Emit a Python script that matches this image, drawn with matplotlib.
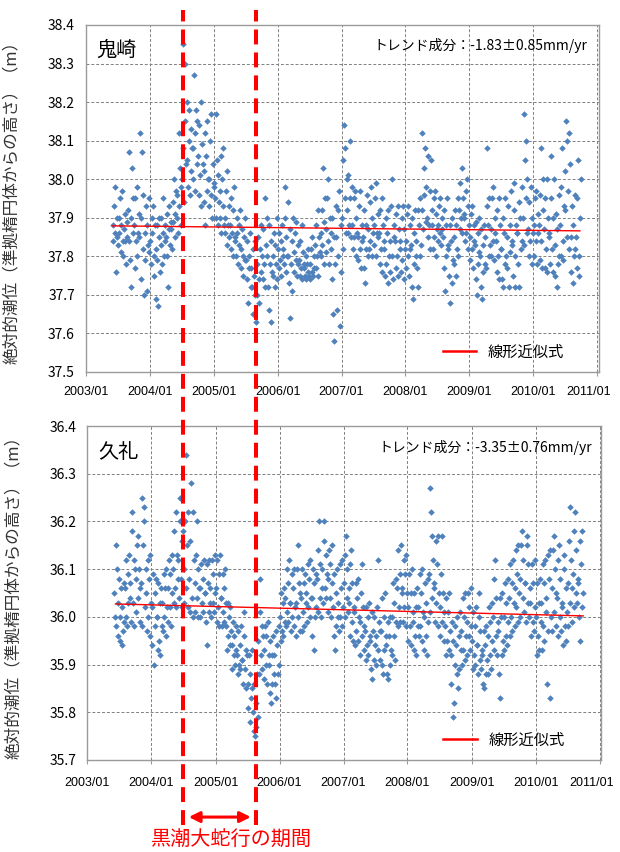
import numpy as np
import pandas as pd
import matplotlib
matplotlib.use("Agg")
import matplotlib.pyplot as plt
import matplotlib.dates as mdates
from matplotlib.lines import Line2D
from matplotlib.transforms import blended_transform_factory, ScaledTranslation

plt.rcParams['font.family'] = ['Noto Sans CJK JP', 'DejaVu Sans']

# ---- data: 8 samples per month, in cm above a base height ----
first_month = "2003-06"
per_month = 8

oni_base = 37.0
oni_cm = [
    # 2003 Jun-Dec
    [88, 84, 93, 86, 98, 76, 90, 85], [83, 90, 86, 95, 81, 88, 97, 84],
    [80, 87, 91, 84, 78, 89, 85, 92], [84, 107, 79, 90, 72, 103, 86, 95],
    [88, 77, 95, 84, 98, 80, 86, 91], [85, 112, 74, 90, 107, 82, 96, 70],
    [86, 79, 93, 71, 88, 83, 95, 81],
    # 2004
    [84, 78, 90, 86, 93, 80, 75, 88], [82, 69, 88, 79, 67, 85, 90, 76],
    [83, 90, 78, 86, 95, 80, 84, 88], [85, 80, 91, 72, 87, 93, 83, 89],
    [87, 82, 94, 89, 100, 85, 91, 97], [90, 96, 86, 112, 93, 103, 88, 98],
    [100, 108, 135, 94, 115, 130, 104, 120], [105, 98, 118, 110, 96, 113, 102, 108],
    [108, 100, 127, 112, 97, 118, 104, 115], [106, 96, 114, 101, 120, 93, 109, 104],
    [102, 94, 112, 88, 106, 97, 115, 100], [100, 93, 110, 96, 117, 90, 104, 98],
    # 2005
    [99, 95, 117, 90, 105, 88, 101, 94], [97, 90, 106, 86, 100, 93, 108, 88],
    [90, 86, 97, 83, 102, 88, 93, 85], [88, 82, 95, 86, 80, 92, 98, 84],
    [85, 80, 90, 86, 78, 88, 83, 92], [82, 77, 87, 80, 75, 85, 90, 79],
    [79, 74, 84, 68, 80, 77, 86, 72], [77, 72, 82, 65, 75, 70, 84, 63],
    [78, 70, 85, 74, 68, 82, 76, 88], [80, 74, 87, 78, 95, 72, 83, 90],
    [80, 72, 88, 66, 78, 63, 84, 76], [80, 75, 86, 72, 83, 78, 90, 74],
    # 2006
    [82, 77, 86, 79, 75, 84, 88, 80], [82, 78, 90, 98, 76, 85, 80, 94],
    [80, 73, 87, 64, 78, 84, 71, 90], [81, 76, 86, 79, 89, 75, 83, 78],
    [79, 75, 84, 77, 88, 74, 81, 78], [77, 75, 80, 74, 78, 76, 82, 75],
    [78, 74, 82, 76, 85, 75, 80, 77], [83, 77, 88, 80, 92, 75, 85, 81],
    [86, 80, 92, 83, 103, 78, 89, 95], [87, 81, 95, 84, 100, 78, 90, 86],
    [82, 74, 90, 65, 85, 58, 78, 93], [85, 66, 92, 80, 97, 62, 88, 76],
    # 2007
    [90, 105, 82, 114, 95, 108, 86, 100], [92, 86, 101, 88, 110, 95, 85, 98],
    [88, 82, 95, 85, 97, 80, 90, 86], [85, 79, 93, 82, 97, 77, 88, 84],
    [85, 77, 92, 73, 88, 82, 96, 80], [87, 82, 94, 84, 98, 80, 90, 86],
    [88, 83, 95, 80, 99, 86, 91, 85], [86, 78, 92, 82, 95, 76, 88, 84],
    [82, 75, 90, 78, 86, 73, 92, 80], [84, 76, 93, 80, 100, 74, 88, 85],
    [84, 77, 91, 80, 93, 75, 87, 82], [84, 76, 90, 79, 93, 74, 87, 82],
    # 2008
    [84, 77, 91, 80, 93, 75, 88, 82], [83, 72, 90, 69, 86, 78, 92, 80],
    [84, 77, 92, 72, 88, 80, 95, 83], [92, 112, 87, 103, 96, 108, 89, 98],
    [90, 85, 106, 88, 97, 82, 105, 92], [88, 82, 95, 85, 97, 80, 91, 87],
    [88, 84, 93, 86, 95, 83, 90, 87], [85, 77, 92, 71, 88, 80, 95, 83],
    [82, 75, 88, 68, 84, 73, 90, 79], [85, 78, 92, 75, 88, 82, 95, 80],
    [92, 87, 99, 90, 103, 86, 95, 91], [90, 84, 97, 86, 100, 82, 93, 88],
    # 2009
    [85, 79, 91, 82, 93, 77, 88, 84], [83, 74, 89, 70, 86, 78, 90, 81],
    [80, 72, 87, 69, 83, 76, 88, 78], [85, 77, 93, 108, 88, 80, 95, 83],
    [87, 80, 95, 84, 98, 79, 90, 86], [84, 76, 92, 80, 95, 74, 88, 82],
    [82, 74, 90, 72, 86, 78, 95, 80], [85, 77, 93, 72, 88, 81, 97, 83],
    [84, 75, 92, 99, 80, 72, 88, 86], [86, 78, 94, 72, 90, 82, 98, 84],
    [90, 117, 83, 105, 95, 110, 86, 100], [87, 80, 94, 84, 98, 78, 90, 86],
    # 2010 Jan-Sep
    [88, 80, 95, 84, 97, 78, 91, 86], [88, 79, 96, 108, 84, 77, 92, 100],
    [87, 77, 95, 82, 100, 76, 90, 85], [86, 78, 95, 106, 82, 76, 90, 100],
    [83, 75, 91, 72, 87, 78, 96, 80], [88, 80, 98, 108, 84, 79, 93, 102],
    [92, 115, 85, 110, 97, 112, 82, 104], [85, 76, 93, 73, 88, 80, 96, 82],
    [85, 77, 95, 105, 80, 75, 90, 100],
]

kure_base = 35.0
kure_cm = [
    # 2003 Jun-Dec
    [105, 100, 115, 98, 110, 96, 103, 108], [100, 95, 106, 94, 102, 97, 107, 99],
    [106, 100, 112, 98, 109, 103, 113, 104], [107, 99, 118, 122, 103, 112, 98, 110],
    [108, 101, 115, 117, 104, 110, 99, 106], [107, 125, 98, 115, 123, 120, 102, 110],
    [105, 97, 112, 100, 108, 96, 113, 103],
    # 2004
    [102, 94, 109, 90, 105, 98, 108, 100], [100, 93, 107, 95, 103, 92, 106, 98],
    [103, 97, 109, 100, 106, 96, 110, 102], [106, 99, 112, 102, 109, 98, 113, 105],
    [110, 103, 118, 106, 122, 102, 113, 108], [112, 104, 120, 125, 108, 116, 102, 118],
    [110, 103, 120, 134, 106, 115, 102, 122], [108, 101, 116, 128, 104, 122, 100, 112],
    [107, 101, 113, 120, 104, 110, 100, 106], [106, 100, 111, 103, 108, 101, 112, 105],
    [105, 99, 111, 94, 107, 101, 112, 103], [106, 100, 112, 103, 109, 101, 113, 105],
    # 2005
    [106, 99, 112, 102, 109, 98, 113, 104], [104, 98, 109, 101, 106, 99, 110, 103],
    [98, 93, 103, 96, 100, 94, 102, 97], [94, 89, 99, 92, 96, 90, 98, 93],
    [92, 88, 97, 90, 94, 89, 98, 91], [91, 86, 96, 101, 89, 93, 85, 92],
    [86, 81, 92, 78, 88, 83, 93, 85], [80, 76, 86, 75, 82, 77, 88, 79],
    [95, 88, 101, 108, 92, 98, 89, 96], [93, 87, 98, 90, 96, 86, 99, 92],
    [90, 84, 95, 82, 92, 86, 96, 88], [92, 86, 97, 83, 94, 88, 98, 90],
    # 2006
    [100, 95, 105, 97, 103, 96, 106, 99], [104, 98, 110, 101, 107, 99, 112, 103],
    [103, 97, 109, 100, 106, 98, 110, 102], [103, 96, 110, 115, 100, 107, 97, 105],
    [104, 97, 110, 101, 107, 98, 109, 103], [105, 99, 111, 102, 108, 100, 112, 104],
    [104, 96, 110, 93, 107, 100, 109, 102], [108, 101, 114, 120, 104, 111, 100, 106],
    [110, 103, 116, 120, 106, 113, 104, 109], [108, 101, 114, 104, 111, 100, 115, 107],
    [102, 96, 109, 93, 105, 98, 110, 100], [103, 97, 111, 100, 106, 98, 112, 102],
    # 2007
    [107, 100, 113, 117, 104, 110, 101, 106], [103, 96, 111, 114, 99, 107, 95, 102],
    [101, 94, 107, 97, 104, 95, 108, 100], [99, 92, 105, 111, 96, 102, 93, 98],
    [97, 91, 102, 94, 100, 92, 103, 96], [95, 89, 101, 87, 97, 91, 100, 94],
    [96, 90, 102, 112, 93, 99, 91, 97], [97, 90, 104, 88, 100, 93, 105, 96],
    [94, 88, 99, 87, 96, 90, 100, 93], [100, 92, 107, 96, 103, 91, 108, 99],
    [106, 98, 114, 102, 109, 99, 115, 105], [106, 99, 112, 102, 109, 98, 113, 105],
    # 2008
    [102, 95, 109, 98, 105, 94, 110, 101], [99, 93, 105, 96, 102, 92, 106, 98],
    [102, 96, 109, 98, 105, 95, 110, 101], [100, 93, 107, 96, 103, 92, 108, 99],
    [109, 127, 101, 122, 117, 104, 112, 106], [107, 99, 116, 103, 111, 98, 117, 105],
    [102, 96, 109, 117, 99, 105, 95, 101], [98, 92, 104, 95, 101, 93, 105, 97],
    [92, 86, 99, 79, 95, 82, 98, 90], [94, 88, 100, 85, 96, 89, 101, 93],
    [97, 90, 104, 93, 100, 91, 105, 96], [99, 92, 105, 96, 102, 93, 106, 98],
    # 2009
    [95, 89, 101, 92, 98, 90, 102, 94], [94, 88, 100, 105, 91, 97, 89, 93],
    [92, 86, 97, 85, 94, 88, 98, 91], [96, 88, 102, 92, 99, 89, 103, 95],
    [100, 93, 108, 112, 96, 104, 92, 99], [97, 88, 104, 83, 100, 92, 105, 95],
    [100, 93, 107, 96, 103, 94, 108, 99], [104, 96, 111, 100, 107, 97, 112, 103],
    [106, 98, 114, 102, 109, 99, 115, 105], [108, 100, 115, 118, 104, 112, 101, 107],
    [107, 99, 115, 117, 103, 111, 100, 106], [103, 96, 111, 99, 107, 97, 112, 102],
    # 2010 Jan-Sep
    [100, 92, 107, 96, 103, 93, 108, 99], [103, 93, 111, 98, 107, 95, 112, 101],
    [104, 86, 113, 97, 108, 83, 114, 100], [106, 97, 114, 117, 101, 110, 98, 105],
    [104, 96, 112, 115, 100, 108, 97, 103], [102, 94, 110, 113, 98, 106, 95, 101],
    [107, 98, 116, 123, 103, 112, 99, 106], [109, 102, 118, 122, 105, 114, 103, 108],
    [107, 100, 116, 95, 111, 102, 118, 105],
]

# linear fits as drawn on the chart
oni_trend_dates = ["2003-06-01", "2010-09-25"]
oni_trend_m = [37.879, 37.866]
kure_trend_dates = ["2003-06-10", "2010-09-30"]
kure_trend_m = [36.027, 36.002]

oni_note = "トレンド成分：-1.83±0.85mm/yr"
kure_note = "トレンド成分：-3.35±0.76mm/yr"
meander_period = ["2004-07-10", "2005-09-01"]

ylabel = "絶対的潮位（準拠楕円体からの高さ）（m）"
dot_color = "#4F81BD"


def sample_dates(n_months):
    months = pd.date_range(first_month, periods=n_months, freq="MS")
    out = []
    for m in months:
        nd = m.days_in_month
        for k in range(per_month):
            out.append(m + pd.Timedelta(days=(k + 0.5) * nd / per_month))
    return mdates.date2num(pd.DatetimeIndex(out).to_pydatetime())


def draw_panel(ax, cm, base, trend_dates, trend_m, ylim, name, note,
               name_y, note_xy, leg_xy, xpad):
    x = sample_dates(len(cm))
    y = base + np.array(cm, dtype=float).ravel() / 100.0
    ax.scatter(x, y, s=11, marker="D", color=dot_color, linewidths=0, zorder=3)

    tx = mdates.date2num(pd.to_datetime(trend_dates).to_pydatetime())
    ax.plot(tx, trend_m, color="red", lw=1.0, zorder=4)

    ax.set_xlim(mdates.date2num(pd.Timestamp("2003-01-01")),
                mdates.date2num(pd.Timestamp("2011-01-12")))
    ax.set_ylim(*ylim)
    ax.set_yticks(np.round(np.arange(ylim[0], ylim[1] + 0.01, 0.1), 1))
    ax.yaxis.set_major_formatter(plt.FormatStrFormatter("%.1f"))
    ax.xaxis.set_major_locator(mdates.YearLocator())
    ax.xaxis.set_major_formatter(mdates.DateFormatter("%Y/%m"))

    ax.grid(True, color="#808080", linestyle=(0, (3, 2)), lw=0.7, zorder=0)
    for sp in ax.spines.values():
        sp.set_color("#9a9a9a")
        sp.set_linewidth(1.0)
    ax.tick_params(axis="y", length=0, pad=8, labelsize=10)
    ax.tick_params(axis="x", length=3, color="#9a9a9a", pad=xpad, labelsize=9)
    labels = ax.get_xticklabels()
    for lab in labels:
        lab.set_family(["Liberation Sans", "DejaVu Sans"])
    # last label sits a little left of its tick so it stays inside the figure
    labels[-1].set_transform(labels[-1].get_transform()
                             + ScaledTranslation(-6 / 72, 0, fig.dpi_scale_trans))

    ax.set_ylabel(ylabel, fontsize=12, color="#333333")
    ax.yaxis.set_label_coords(-0.128, 0.5)

    ax.text(0.021, name_y, name, transform=ax.transAxes, fontsize=14.5,
            ha="left", va="center")
    ax.text(note_xy[0], note_xy[1], note, transform=ax.transAxes, fontsize=10,
            ha="right", va="center")

    handle = Line2D([], [], color="red", lw=1.8)
    ax.legend([handle], ["線形近似式"], loc="center left", bbox_to_anchor=leg_xy,
              frameon=False, borderpad=0, borderaxespad=0, handlelength=2.2,
              handletextpad=0.75, fontsize=11)


fig = plt.figure(figsize=(6.2, 8.52), dpi=100)
ax_top = fig.add_axes([0.1387, 0.5634, 0.8274, 0.4073])
ax_bot = fig.add_axes([0.1411, 0.1080, 0.8290, 0.3920])

draw_panel(ax_top, oni_cm, oni_base, oni_trend_dates, oni_trend_m, (37.5, 38.4),
           "鬼崎", oni_note, 0.928, (0.977, 0.942), (0.695, 0.058), 7)
draw_panel(ax_bot, kure_cm, kure_base, kure_trend_dates, kure_trend_m, (35.7, 36.4),
           "久礼", kure_note, 0.922, (0.981, 0.937), (0.692, 0.06), 9)

# Kuroshio large meander period: dashed markers running through both panels
trans = blended_transform_factory(ax_top.transData, fig.transFigure)
meander_x = mdates.date2num(pd.to_datetime(meander_period).to_pydatetime())
for d in meander_x:
    fig.add_artist(Line2D([d, d], [0.032, 0.988], transform=trans, color="#FF0000",
                          lw=2.9, linestyle=(0, (3.7, 2.0)), zorder=10))

ax_bot.annotate("", xy=(meander_x[1], 0.041), xycoords=trans,
                xytext=(meander_x[0], 0.041), textcoords=trans,
                arrowprops=dict(arrowstyle="<|-|>", color="#FF0000", lw=2.2,
                                shrinkA=4, shrinkB=4, mutation_scale=16),
                annotation_clip=False)
fig.text(0.374, 0.014, "黒潮大蛇行の期間", color="#FF0000", fontsize=14.5,
         ha="center", va="center")

fig.savefig("out.png", dpi=100)
